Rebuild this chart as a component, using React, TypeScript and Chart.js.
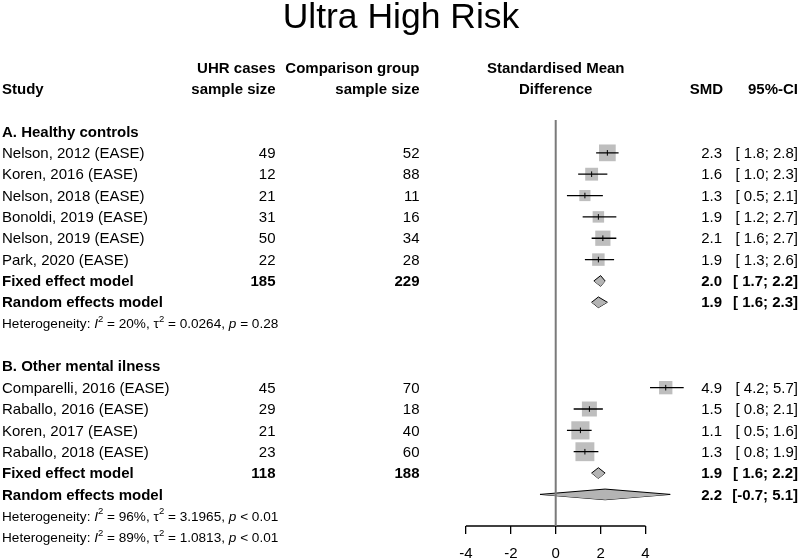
import React, { useEffect, useRef } from 'react';
import { Chart, registerables } from 'chart.js';

Chart.register(...registerables);

const FONT = '"Liberation Sans", Arial, Helvetica, sans-serif';

// ---------- data ----------
const TITLE = 'Ultra High Risk';
const GROUP_LABELS = ['A. Healthy controls', 'B. Other mental ilness'];
const STUDIES = [
  'Nelson, 2012 (EASE)',
  'Koren, 2016 (EASE)',
  'Nelson, 2018 (EASE)',
  'Bonoldi, 2019 (EASE)',
  'Nelson, 2019 (EASE)',
  'Park, 2020 (EASE)',
  'Comparelli, 2016 (EASE)',
  'Raballo, 2016 (EASE)',
  'Koren, 2017 (EASE)',
  'Raballo, 2018 (EASE)',
];
const STUDY_GROUP = [0, 0, 0, 0, 0, 0, 1, 1, 1, 1];
const UHR_N = [49, 12, 21, 31, 50, 22, 45, 29, 21, 23];
const COMP_N = [52, 88, 11, 16, 34, 28, 70, 18, 40, 60];
const SMD = [2.3, 1.6, 1.3, 1.9, 2.1, 1.9, 4.9, 1.5, 1.1, 1.3];
const CI_LOW = [1.8, 1.0, 0.5, 1.2, 1.6, 1.3, 4.2, 0.8, 0.5, 0.8];
const CI_HIGH = [2.8, 2.3, 2.1, 2.7, 2.7, 2.6, 5.7, 2.1, 1.6, 1.9];
const WEIGHT = [25.7, 15.2, 11.4, 12.1, 21.3, 14.3, 16.3, 20.6, 30.3, 32.8];

const FIXED_UHR_N = [185, 118];
const FIXED_COMP_N = [229, 188];
const FIXED_SMD = [2.0, 1.9];
const FIXED_LOW = [1.7, 1.6];
const FIXED_HIGH = [2.2, 2.2];
const RANDOM_SMD = [1.9, 2.2];
const RANDOM_LOW = [1.6, -0.7];
const RANDOM_HIGH = [2.3, 5.1];

// heterogeneity: group A, group B, overall
const HET_I2 = ['20%', '96%', '89%'];
const HET_TAU2 = ['0.0264', '3.1965', '1.0813'];
const HET_P = ['= 0.28', '< 0.01', '< 0.01'];

const X_TICKS = [-4, -2, 0, 2, 4];

// ---------- layout ----------
const X_MIN = -24.75;
const X_MAX = 10.88;
const Y_MIN = -6.16;
const Y_MAX = 18.48;
const AXIS_H = 34;
const BOX_K = 3.3; // px of box side per sqrt(weight)
const DIAMOND_H = 0.25;
const ZERO_TOP = -0.54;
const TEXT_DY = 1;

const COL_STUDY = 2;
const COL_UHR = 275.5;
const COL_COMP = 419.5;
const COL_SMD = 722;
const COL_CI = 798;
const FS = 15;
const FS_HET = 13.6;
const FS_TITLE = 35.5;

const fmtCI = (lo: number, hi: number) =>
  `[${lo < 0 ? '' : ' '}${lo.toFixed(1)}; ${hi.toFixed(1)}]`;

export default function App() {
  const ref = useRef<HTMLCanvasElement>(null);

  useEffect(() => {
    document.body.style.margin = '0';
    const canvas = ref.current!;

    let r = 0;
    const studyRow: number[] = [];
    const fixedRow: number[] = [];
    const randomRow: number[] = [];
    const hetRow: number[] = [];
    const groupRow: number[] = [];
    for (let g = 0; g < GROUP_LABELS.length; g++) {
      groupRow[g] = r++;
      STUDIES.forEach((_, i) => {
        if (STUDY_GROUP[i] === g) studyRow[i] = r++;
      });
      fixedRow[g] = r++;
      randomRow[g] = r++;
      hetRow[g] = r++;
      r++;
    }
    hetRow[2] = hetRow[GROUP_LABELS.length - 1] + 1;

    const ciData: any[] = [];
    STUDIES.forEach((_, i) => {
      ciData.push({ x: CI_LOW[i], y: studyRow[i] });
      ciData.push({ x: CI_HIGH[i], y: studyRow[i] });
      ciData.push({ x: CI_HIGH[i], y: null });
    });

    const diamonds: any[] = [];
    const addDiamond = (lo: number, est: number, hi: number, row: number) => {
      diamonds.push({
        type: 'line',
        data: [
          { x: lo, y: row },
          { x: est, y: row - DIAMOND_H },
          { x: hi, y: row },
        ],
        borderColor: '#000',
        borderWidth: 1,
        backgroundColor: '#b4b4b4',
        fill: '+1',
        pointRadius: 0,
        tension: 0,
        order: 6,
      });
      diamonds.push({
        type: 'line',
        data: [
          { x: lo, y: row },
          { x: est, y: row + DIAMOND_H },
          { x: hi, y: row },
        ],
        borderColor: '#000',
        borderWidth: 1,
        backgroundColor: '#b4b4b4',
        fill: false,
        pointRadius: 0,
        tension: 0,
        order: 6,
      });
    };
    for (let g = 0; g < GROUP_LABELS.length; g++) {
      addDiamond(FIXED_LOW[g], FIXED_SMD[g], FIXED_HIGH[g], fixedRow[g]);
      addDiamond(RANDOM_LOW[g], RANDOM_SMD[g], RANDOM_HIGH[g], randomRow[g]);
    }

    const textPlugin = {
      id: 'forestText',
      afterDraw(chart: any) {
        const ctx: CanvasRenderingContext2D = chart.ctx;
        const ys = chart.scales.y;
        const xs = chart.scales.x;
        const py = (row: number) => ys.getPixelForValue(row) + TEXT_DY;
        ctx.save();
        ctx.fillStyle = '#000';
        ctx.textBaseline = 'middle';
        const put = (
          t: string,
          x: number,
          row: number,
          align: CanvasTextAlign,
          bold = false,
          size = FS
        ) => {
          ctx.font = `${bold ? 'bold ' : ''}${size}px ${FONT}`;
          ctx.textAlign = align;
          ctx.fillText(t, x, py(row));
        };

        // title
        ctx.font = `${FS_TITLE}px ${FONT}`;
        ctx.textAlign = 'center';
        ctx.fillText(TITLE, 401, 18);

        // headers
        const h1 = -3;
        const h2 = -2;
        const cx0 = xs.getPixelForValue(0);
        put('UHR cases', COL_UHR, h1, 'right', true);
        put('Comparison group', COL_COMP, h1, 'right', true);
        put('Standardised Mean', cx0, h1, 'center', true);
        put('Study', COL_STUDY, h2, 'left', true);
        put('sample size', COL_UHR, h2, 'right', true);
        put('sample size', COL_COMP, h2, 'right', true);
        put('Difference', cx0, h2, 'center', true);
        put('SMD', COL_SMD + 1, h2, 'right', true);
        put('95%-CI', COL_CI, h2, 'right', true);

        for (let g = 0; g < GROUP_LABELS.length; g++) {
          put(GROUP_LABELS[g], COL_STUDY, groupRow[g], 'left', true);
          put('Fixed effect model', COL_STUDY, fixedRow[g], 'left', true);
          put(String(FIXED_UHR_N[g]), COL_UHR, fixedRow[g], 'right', true);
          put(String(FIXED_COMP_N[g]), COL_COMP, fixedRow[g], 'right', true);
          put(FIXED_SMD[g].toFixed(1), COL_SMD, fixedRow[g], 'right', true);
          put(fmtCI(FIXED_LOW[g], FIXED_HIGH[g]), COL_CI, fixedRow[g], 'right', true);
          put('Random effects model', COL_STUDY, randomRow[g], 'left', true);
          put(RANDOM_SMD[g].toFixed(1), COL_SMD, randomRow[g], 'right', true);
          put(fmtCI(RANDOM_LOW[g], RANDOM_HIGH[g]), COL_CI, randomRow[g], 'right', true);
        }
        STUDIES.forEach((s, i) => {
          put(s, COL_STUDY, studyRow[i], 'left');
          put(String(UHR_N[i]), COL_UHR, studyRow[i], 'right');
          put(String(COMP_N[i]), COL_COMP, studyRow[i], 'right');
          put(SMD[i].toFixed(1), COL_SMD, studyRow[i], 'right');
          put(fmtCI(CI_LOW[i], CI_HIGH[i]), COL_CI, studyRow[i], 'right');
        });

        // heterogeneity lines
        for (let k = 0; k < HET_I2.length; k++) {
          const runs = [
            { t: 'Heterogeneity: ' },
            { t: 'I', it: true },
            { t: '2', sup: true },
            { t: ` = ${HET_I2[k]}, \u03c4` },
            { t: '2', sup: true },
            { t: ` = ${HET_TAU2[k]}, ` },
            { t: 'p', it: true },
            { t: ` ${HET_P[k]}` },
          ];
          let x = COL_STUDY;
          const y0 = py(hetRow[k]);
          ctx.textAlign = 'left';
          for (const run of runs as any[]) {
            const fs = run.sup ? FS_HET * 0.7 : FS_HET;
            ctx.font = `${run.it ? 'italic ' : ''}${fs}px ${FONT}`;
            ctx.fillText(run.t, x, y0 - (run.sup ? FS_HET * 0.38 : 0));
            x += ctx.measureText(run.t).width;
          }
        }
        ctx.restore();
      },
    };

    const chart = new Chart(canvas, {
      type: 'line',
      data: {
        datasets: [
          {
            label: 'zero',
            data: [
              { x: 0, y: ZERO_TOP },
              { x: 0, y: Y_MAX },
            ],
            borderColor: '#7a7a7a',
            borderWidth: 2,
            pointRadius: 0,
            order: 1,
          },
          {
            label: 'axis',
            data: [
              { x: X_TICKS[0], y: Y_MAX },
              { x: X_TICKS[X_TICKS.length - 1], y: Y_MAX },
            ],
            borderColor: '#000',
            borderWidth: 1.3,
            pointRadius: 0,
            clip: false as any,
            order: 1,
          },
          {
            label: 'est',
            data: STUDIES.map((_, i) => ({ x: SMD[i], y: studyRow[i] })),
            showLine: false,
            pointStyle: 'line',
            rotation: 90,
            pointRadius: 2.8,
            borderColor: '#000',
            borderWidth: 1,
            order: 2,
          },
          {
            label: 'ci',
            data: ciData,
            borderColor: '#000',
            borderWidth: 1.3,
            pointRadius: 0,
            spanGaps: false,
            order: 3,
          },
          {
            label: 'box',
            data: STUDIES.map((_, i) => ({ x: SMD[i], y: studyRow[i] })),
            showLine: false,
            pointStyle: 'rect',
            pointRadius: WEIGHT.map((w) => (BOX_K * Math.sqrt(w)) / 2 / Math.SQRT1_2),
            backgroundColor: '#bebebe',
            borderColor: '#bebebe',
            borderWidth: 0,
            order: 4,
          },
          ...diamonds,
        ] as any,
      },
      options: {
        responsive: false,
        animation: false,
        events: [],
        layout: { padding: 0, autoPadding: false },
        plugins: {
          legend: { display: false },
          tooltip: { enabled: false },
          title: { display: false },
        },
        scales: {
          x: {
            type: 'linear',
            min: X_MIN,
            max: X_MAX,
            afterBuildTicks: (s: any) => {
              s.ticks = X_TICKS.map((v) => ({ value: v }));
            },
            afterFit: (s: any) => {
              s.height = AXIS_H;
            },
            grid: {
              display: true,
              drawOnChartArea: false,
              drawTicks: true,
              tickLength: 8,
              color: '#000',
              lineWidth: 1.3,
            },
            border: { display: false },
            ticks: {
              color: '#000',
              font: { size: FS, family: FONT },
              padding: 11,
              maxRotation: 0,
              autoSkip: false,
              callback: (v: any) => String(v),
            },
          },
          y: {
            type: 'linear',
            display: false,
            reverse: true,
            min: Y_MIN,
            max: Y_MAX,
          },
        },
      },
      plugins: [textPlugin],
    });
    return () => chart.destroy();
  }, []);

  return (
    <div style={{ width: 800, height: 560 }}>
      <canvas ref={ref} width={800} height={560} style={{ display: 'block' }} />
    </div>
  );
}
